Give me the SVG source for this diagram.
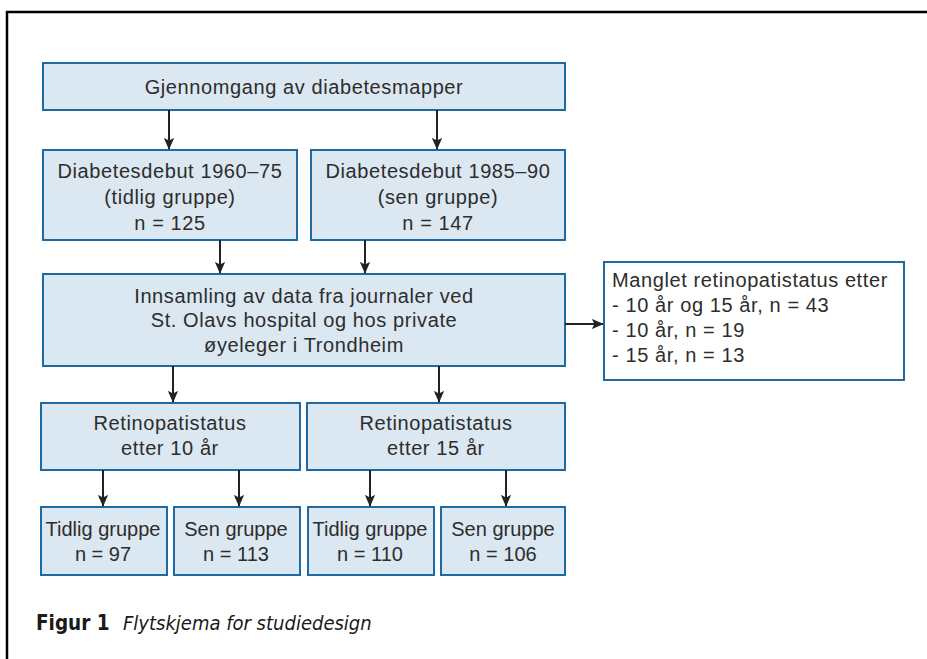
<svg xmlns="http://www.w3.org/2000/svg" width="927" height="659" viewBox="0 0 927 659">
<defs>
<marker id="ah" markerWidth="12" markerHeight="14" viewBox="0 0 14 12" refX="13" refY="6" orient="auto" markerUnits="userSpaceOnUse">
<path d="M0,0 L14,6 L0,12 L3,6 Z" fill="#222"/>
</marker>
<style>
.box{fill:#dbe7f1;stroke:#1d6aa5;stroke-width:2}
.wbox{fill:#fff;stroke:#1d6aa5;stroke-width:2}
.t{font-family:"Liberation Sans",Arial,sans-serif;font-size:20px;letter-spacing:0.6px;fill:#2d2d2d;text-anchor:middle}
.ts{font-family:"Liberation Sans",Arial,sans-serif;font-size:20px;fill:#2d2d2d;text-anchor:middle}
.tl{font-family:"Liberation Sans",Arial,sans-serif;font-size:20px;letter-spacing:0.6px;fill:#2d2d2d}
.c{stroke:#222;stroke-width:2;fill:none;marker-end:url(#ah)}
</style>
</defs>
<rect width="927" height="659" fill="#fff"/>
<path d="M7,670 V12 H940" fill="none" stroke="#000" stroke-width="2.5"/>

<g id="top"><rect class="box" x="43" y="63" width="522" height="47"/><text class="t" x="304" y="94">Gjennomgang av diabetesmapper</text></g>
<g id="early"><rect class="box" x="43" y="150" width="254" height="90"/>
<text class="t" x="170" y="178">Diabetesdebut 1960–75</text><text class="t" x="170" y="204">(tidlig gruppe)</text><text class="t" x="170" y="230">n = 125</text></g>
<g id="late"><rect class="box" x="311" y="150" width="254" height="90"/>
<text class="t" x="438" y="178">Diabetesdebut 1985–90</text><text class="t" x="438" y="204">(sen gruppe)</text><text class="t" x="438" y="230">n = 147</text></g>
<g id="collect"><rect class="box" x="43" y="274" width="522" height="92"/>
<text class="t" x="304" y="303">Innsamling av data fra journaler ved</text><text class="t" x="304" y="327">St. Olavs hospital og hos private</text><text class="t" x="304" y="352">øyeleger i Trondheim</text></g>
<g id="missing"><rect class="wbox" x="604" y="262" width="300" height="118"/>
<text class="tl" x="612" y="287">Manglet retinopatistatus etter</text><text class="tl" x="612" y="312">- 10 år og 15 år, n = 43</text><text class="tl" x="612" y="337">- 10 år, n = 19</text><text class="tl" x="612" y="362">- 15 år, n = 13</text></g>
<g id="r10"><rect class="box" x="41" y="403" width="259" height="67"/>
<text class="t" x="170" y="430">Retinopatistatus</text><text class="t" x="170" y="455">etter 10 år</text></g>
<g id="r15"><rect class="box" x="307" y="403" width="258" height="67"/>
<text class="t" x="436" y="430">Retinopatistatus</text><text class="t" x="436" y="455">etter 15 år</text></g>
<g id="e10"><rect class="box" x="41" y="507" width="126" height="68"/><text class="ts" x="103" y="536">Tidlig gruppe</text><text class="ts" x="103" y="561">n = 97</text></g>
<g id="l10"><rect class="box" x="174" y="507" width="126" height="68"/><text class="ts" x="236" y="536">Sen gruppe</text><text class="ts" x="236" y="561">n = 113</text></g>
<g id="e15"><rect class="box" x="308" y="507" width="126" height="68"/><text class="ts" x="370" y="536">Tidlig gruppe</text><text class="ts" x="370" y="561">n = 110</text></g>
<g id="l15"><rect class="box" x="441" y="507" width="124" height="68"/><text class="ts" x="503" y="536">Sen gruppe</text><text class="ts" x="503" y="561">n = 106</text></g>

<g id="connectors">
<line class="c" x1="169" y1="110" x2="169" y2="149"/>
<line class="c" x1="437" y1="110" x2="437" y2="149"/>
<line class="c" x1="220" y1="240" x2="220" y2="273"/>
<line class="c" x1="365" y1="240" x2="365" y2="273"/>
<line class="c" x1="173" y1="366" x2="173" y2="402"/>
<line class="c" x1="439" y1="366" x2="439" y2="402"/>
<line class="c" x1="103" y1="470" x2="103" y2="506"/>
<line class="c" x1="239" y1="470" x2="239" y2="506"/>
<line class="c" x1="370" y1="470" x2="370" y2="506"/>
<line class="c" x1="506" y1="470" x2="506" y2="506"/>
<line class="c" x1="565" y1="324" x2="603" y2="324"/>
</g>

<g id="caption">
<text x="36" y="630" font-family="'DejaVu Sans Condensed','Liberation Sans',sans-serif" font-size="20.5" font-weight="bold" fill="#1a1a1a">Figur 1</text>
<text x="123" y="630" font-family="'DejaVu Sans Condensed','Liberation Sans',sans-serif" font-size="20" font-style="italic" fill="#1a1a1a">Flytskjema for studiedesign</text>
</g>
</svg>
